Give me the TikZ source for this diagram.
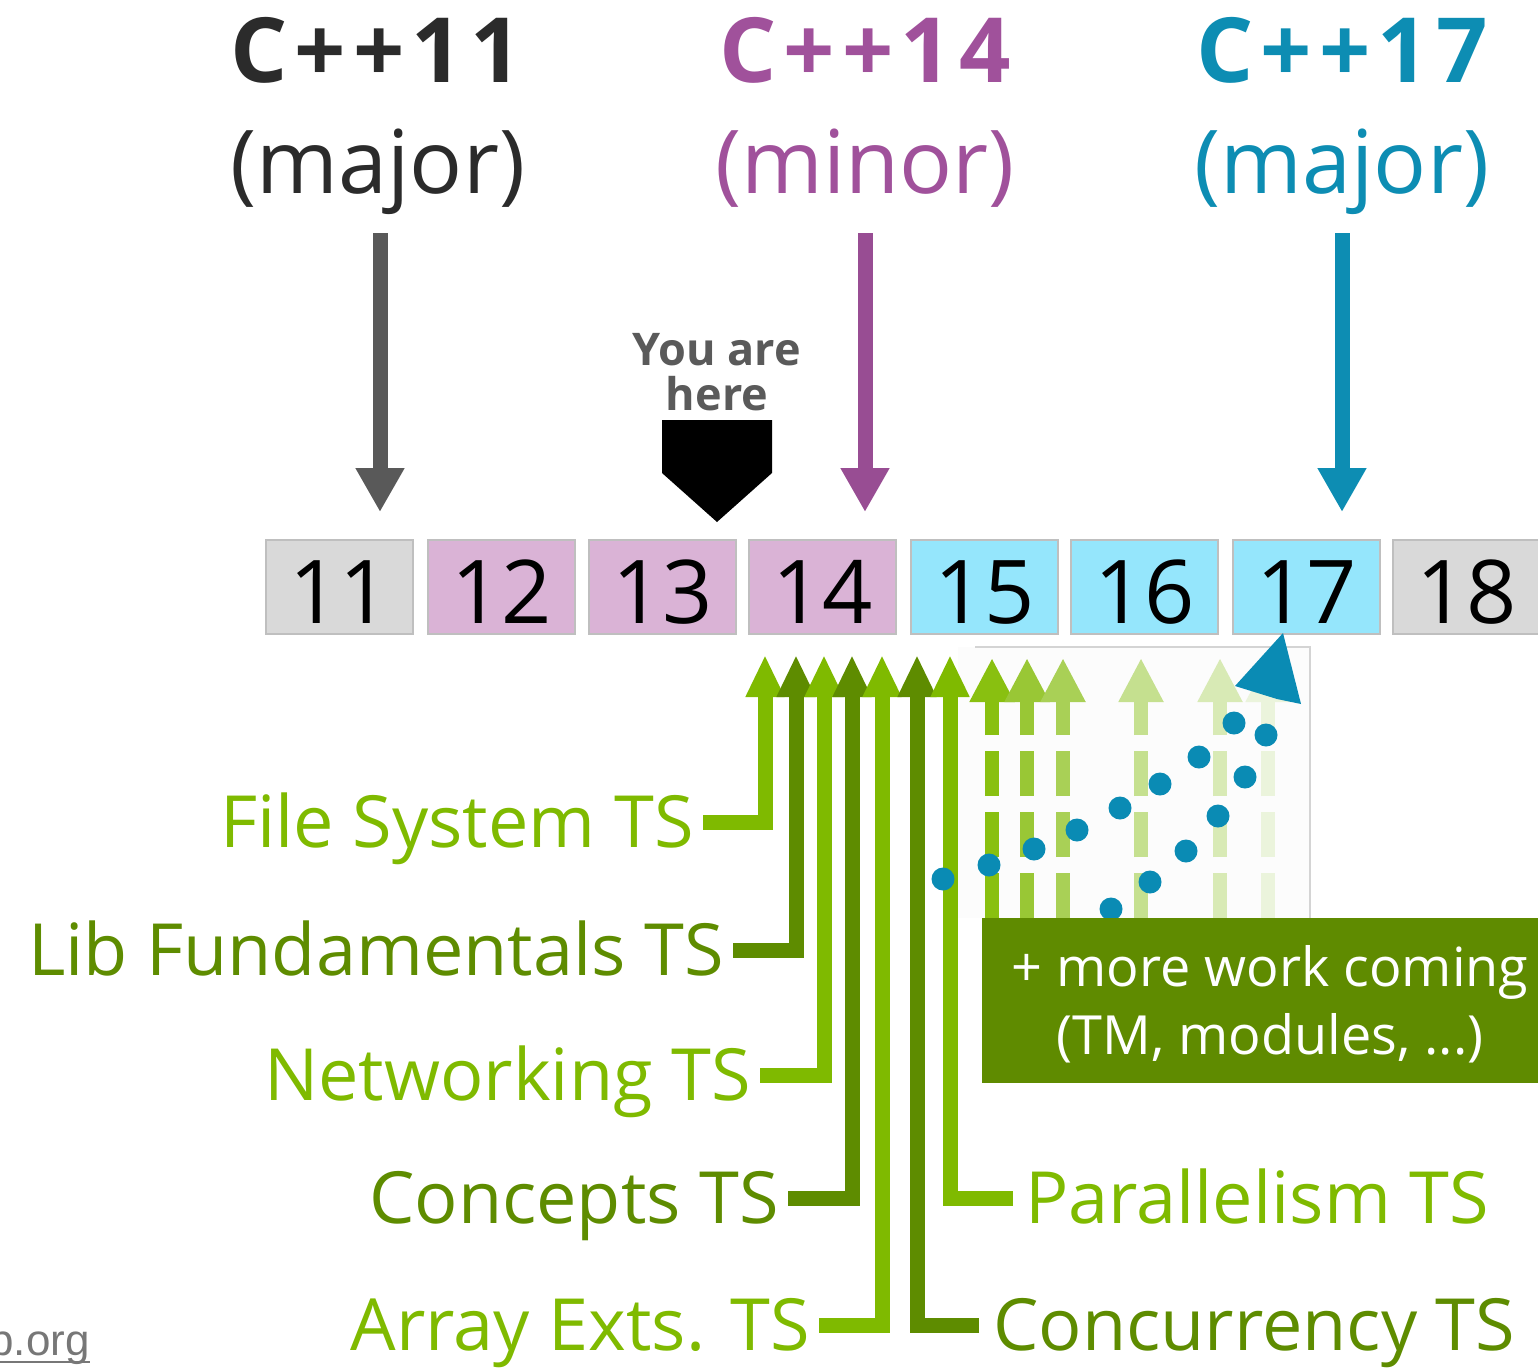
\documentclass[tikz,border=0pt]{standalone}
\usepackage{fontspec}
\setmainfont{Open Sans}
\newfontfamily\urlfont{Liberation Sans}
\usetikzlibrary{arrows.meta}

\definecolor{ink}{HTML}{2B2B2B}
\definecolor{darrow}{HTML}{595959}
\definecolor{cpurple}{HTML}{A0519B}
\definecolor{cteal}{HTML}{0D8DB3}
\definecolor{lgreen}{HTML}{7FBA00}
\definecolor{dgreen}{HTML}{5E8C00}
\definecolor{boxgreen}{HTML}{5F8B00}
\definecolor{grayfill}{HTML}{D9D9D9}
\definecolor{pinkfill}{HTML}{DAB3D6}
\definecolor{cyanfill}{HTML}{95E6FC}
\definecolor{boxedge}{HTML}{BFBFBF}
\definecolor{dotblue}{HTML}{0A8BB4}
\definecolor{hereink}{HTML}{5A5A5A}
\definecolor{urlgray}{HTML}{777777}
\definecolor{panelfill}{HTML}{FCFCFC}
\definecolor{panelline}{HTML}{D4D4D4}
\definecolor{fut1}{HTML}{89C010}
\definecolor{fut2}{HTML}{99C735}
\definecolor{fut3}{HTML}{A9D056}
\definecolor{fut4}{HTML}{C5E08F}
\definecolor{fut5}{HTML}{D8EAB5}
\definecolor{fut6}{HTML}{EBF4DC}

\begin{document}
\begin{tikzpicture}[x=1pt,y=-1pt,
  vtitle/.style={font=\fontsize{90}{100}\selectfont\bfseries\addfontfeatures{LetterSpace=8}, inner sep=0pt},
  vsub/.style={font=\fontsize{88}{96}\selectfont, inner sep=0pt},
  versionarrow/.style={line width=15pt, -{Triangle[width=46pt,length=44pt]}},
  herenote/.style={font=\fontsize{45}{50}\selectfont\bfseries, text=hereink, inner sep=0pt},
  yearbox/.style={draw=boxedge, line width=1.5pt, inner sep=0pt, outer sep=0pt,
    minimum width=147pt, minimum height=94pt},
  yearnum/.style={font=\fontsize{88}{96}\selectfont, inner sep=0pt},
  tslabel/.style={font=\fontsize{72}{80}\selectfont, text height=51pt, text depth=0pt,
    inner xsep=9pt, inner ysep=0pt},
  tsarrow/.style={line width=15pt, -{Triangle[width=36pt,length=42pt]}},
  futurearrow/.style={line width=14pt, dash pattern=on 45pt off 16pt,
    -{Triangle[width=42pt,length=44pt]}},
  dotmark/.style={fill=dotblue},
  morebox/.style={fill=boxgreen, draw=none, inner sep=0pt,
    minimum width=576pt, minimum height=165pt},
  moretext/.style={font=\fontsize{54}{60}\selectfont, text=white, inner sep=0pt},
  urltext/.style={font=\urlfont\fontsize{44}{50}\selectfont, text=urlgray, inner sep=0pt}
]
\useasboundingbox (0,0) rectangle (1538,1371);
\clip (0,0) rectangle (1538,1371);

% ---- standard versions ----
\node[vtitle, text=ink, anchor=base] (t11) at (376,82) {C++11};
\node[vsub, text=ink, anchor=base] (s11) at (378,193) {(major)};
\node[vtitle, text=cpurple, anchor=base] (t14) at (865,82) {C++14};
\node[vsub, text=cpurple, anchor=base] (s14) at (865,193) {(minor)};
\node[vtitle, text=cteal, anchor=base] (t17) at (1342,82) {C++17};
\node[vsub, text=cteal, anchor=base] (s17) at (1342,193) {(major)};

\coordinate (a11top) at (380,233); \coordinate (a11tip) at (380,512);
\coordinate (a14top) at (865,233); \coordinate (a14tip) at (865,512);
\coordinate (a17top) at (1342,233); \coordinate (a17tip) at (1342,512);
\draw[versionarrow, darrow] (a11top) -- (a11tip);
\draw[versionarrow, cpurple!95!black] (a14top) -- (a14tip);
\draw[versionarrow, cteal] (a17top) -- (a17tip);

% ---- you are here marker ----
\node[herenote, anchor=base] (here1) at (717,365) {You are};
\node[herenote, anchor=base] (here2) at (717,410) {here};
\fill[black] (662,420) -- (772,420) -- (772,473) -- (717,522) -- (662,473) -- cycle;

% ---- year boxes ----
\foreach \n/\xl/\c in {11/266/grayfill,12/428/pinkfill,13/589/pinkfill,14/749/pinkfill,
                       15/911/cyanfill,16/1071/cyanfill,17/1233/cyanfill,18/1393/grayfill}{
  \node[yearbox, fill=\c, anchor=north west] (b\n) at (\xl,540) {};
  \node[yearnum, anchor=base] (n\n) at ([yshift=-36pt]b\n.center) {\n};
}

% ---- panel behind future work ----
\fill[panelfill] (958,647) rectangle (1310,918);
\draw[panelline, line width=1.5pt] (975,647) -- (1310,647) -- (1310,918);

% ---- future (dashed) arrows ----
\foreach \x/\c [count=\i] in {992/fut1,1027/fut2,1063/fut3,1141/fut4,1220/fut5,1268/fut6}{
  \coordinate (fb\i) at (\x,918);
  \coordinate (ft\i) at (\x,658);
  \draw[futurearrow, \c] (fb\i) -- (ft\i);
}

% ---- technical specifications ----
\node[tslabel, text=lgreen, anchor=east] (fs)   at (703,822)  {File System TS};
\node[tslabel, text=dgreen, anchor=east] (lib)  at (733,950)  {Lib Fundamentals TS};
\node[tslabel, text=lgreen, anchor=east] (net)  at (760,1075) {Networking TS};
\node[tslabel, text=dgreen, anchor=east] (cpt)  at (788,1198) {Concepts TS};
\node[tslabel, text=lgreen, anchor=east] (arr)  at (819,1325) {Array Exts. TS};
\node[tslabel, text=dgreen, anchor=west] (conc) at (984,1325) {Concurrency TS};
\node[tslabel, text=lgreen, anchor=west] (par)  at (1016,1198) {Parallelism TS};

\coordinate (tip1) at (765,655);
\coordinate (tip2) at (796,655);
\coordinate (tip3) at (824,655);
\coordinate (tip4) at (852,655);
\coordinate (tip5) at (882,655);
\coordinate (tip6) at (917,655);
\coordinate (tip7) at (950,655);

\draw[tsarrow, lgreen] (fs.east)   -| (tip1);
\draw[tsarrow, dgreen] (lib.east)  -| (tip2);
\draw[tsarrow, lgreen] (net.east)  -| (tip3);
\draw[tsarrow, dgreen] (cpt.east)  -| (tip4);
\draw[tsarrow, lgreen] (arr.east)  -| (tip5);
\draw[tsarrow, dgreen] ([xshift=-5pt]conc.west) -| (tip6);
\draw[tsarrow, lgreen] ([xshift=-3pt]par.west)  -| (tip7);

% ---- scattered work items ----
\foreach \x/\y in {943/879,989/865,1034/849,1077/830,1120/808,1160/784,1199/757,
                   1234/723,1266/735,1245/777,1218/816,1186/851,1150/882,1111/909}{
  \fill[dotmark] (\x,\y) circle (11.5pt);
}
\fill[dotblue] (1283,633) -- (1301,704) -- (1277,699) -- (1235,686) -- cycle;

% ---- more work box ----
\node[morebox] (more) at (1270,1000.5) {};
\node[moretext, anchor=base] (more1) at (1270,986) {+ more work coming};
\node[moretext, anchor=base] (more2) at (1270,1054) {(TM, modules, ...)};

% ---- source link ----
\node[urltext, anchor=base east] (url) at (90,1355) {isocpp.org};
\draw[urlgray, line width=1.5pt] ([yshift=-7pt]url.base west) -- ([yshift=-7pt]url.base east);
\end{tikzpicture}
\end{document}
